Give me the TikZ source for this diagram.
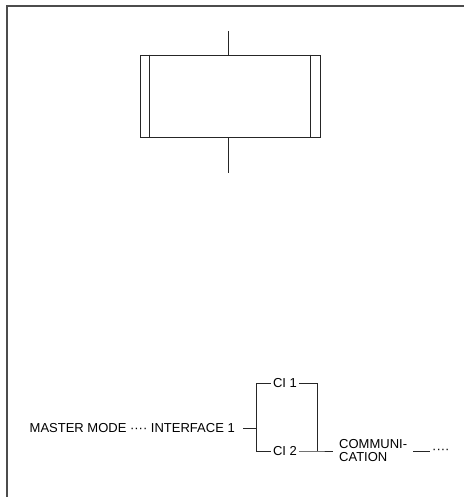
\documentclass[tikz,border=0pt]{standalone}
\usepackage{fontspec}
\setmainfont{Liberation Sans}
\usetikzlibrary{positioning, calc}

\begin{document}
\begin{tikzpicture}[x=1pt, y=-1pt,
    lbl/.style={font=\fontsize{13}{13}\selectfont, inner sep=2pt},
    wire/.style={line width=0.8pt, black!85},
    stepbox/.style={draw, line width=0.8pt, black!85, minimum width=180pt, minimum height=82pt}
  ]
  \useasboundingbox (0,0) rectangle (464,497);
  \draw[line width=1.3pt, black!70] (7,497) -- (7,6) -- (464,6);

  % step with its two side bars
  \node[stepbox] (step1) at (230,96) {};
  \draw[wire] ($(step1.north west)+(10,0)$) -- ($(step1.south west)+(10,0)$);
  \draw[wire] ($(step1.north east)+(-10,0)$) -- ($(step1.south east)+(-10,0)$);
  \coordinate (intop) at (228,31);
  \coordinate (outbot) at (228,173);
  \draw[wire] (intop) -- (intop |- step1.north);
  \draw[wire] (outbot |- step1.south) -- (outbot);

  % communication chain
  \node[lbl, anchor=east] (master) at (237,428) {MASTER MODE ···· INTERFACE 1};
  \coordinate (fork) at (256,428);
  \node[lbl] (ci1) at (285,383) {CI 1};
  \node[lbl] (ci2) at (285,451) {CI 2};
  \coordinate (join) at (317,451);
  \node[lbl, anchor=west, align=left, inner xsep=6pt] (comm) at (333,451) {COMMUNI-\\CATION};
  \node[lbl, anchor=west] (more) at (430,451) {····};

  \draw[wire] ([xshift=6pt]master.east) -- (fork);
  \draw[wire] (fork) |- (ci1);
  \draw[wire] (fork) |- (ci2);
  \draw[wire] (ci1) -| (join);
  \draw[wire] (ci2) -- (join) -- (comm);
  \draw[wire] (comm) -- (more);
\end{tikzpicture}
\end{document}
